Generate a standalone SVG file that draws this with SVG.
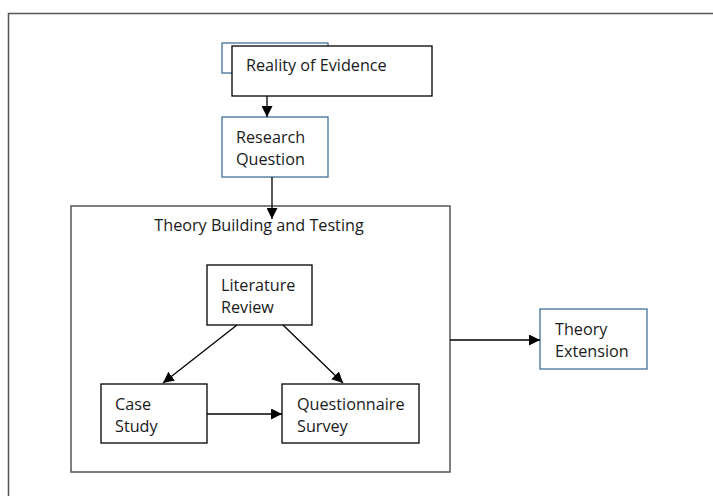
<svg xmlns="http://www.w3.org/2000/svg" width="713" height="496" viewBox="0 0 713 496">
<style>
text{font-family:"Open Sans","Liberation Sans",Arial,sans-serif;font-size:16.2px;fill:#1a1a1a}
.bk{fill:#fff;stroke:#000;stroke-width:1.3}
.bl{fill:#fff;stroke:#41709c;stroke-width:1.3}
.fr{fill:none;stroke:#555;stroke-width:1.5}
.cn{stroke:#000;stroke-width:1.3;fill:none;marker-end:url(#ah)}
</style>
<defs>
<marker id="ah" viewBox="0 0 10 10" refX="10" refY="5" markerWidth="11" markerHeight="11" markerUnits="userSpaceOnUse" orient="auto"><path d="M0,0L10,5L0,10z" fill="#000"/></marker>
</defs>
<rect width="713" height="496" fill="#fff"/>
<path class="fr" d="M8.5,496V13.5H713"/>
<g id="frame-box"><rect class="fr" x="71" y="206" width="379" height="266"/><text x="259" y="231" text-anchor="middle">Theory Building and Testing</text></g>
<g id="hidden-box"><rect class="bl" x="222" y="43" width="106" height="30"/></g>
<g id="reality"><rect class="bk" x="232" y="46" width="200" height="50"/><text x="246" y="71">Reality of Evidence</text></g>
<g id="research"><rect class="bl" x="222" y="117" width="106" height="60"/><text x="236" y="143">Research</text><text x="236" y="165">Question</text></g>
<g id="literature"><rect class="bk" x="207" y="265" width="105" height="60"/><text x="221" y="291">Literature</text><text x="221" y="313">Review</text></g>
<g id="case"><rect class="bk" x="101" y="384" width="106" height="59"/><text x="115" y="410">Case</text><text x="115" y="432">Study</text></g>
<g id="questionnaire"><rect class="bk" x="282" y="384" width="137" height="59"/><text x="297" y="410">Questionnaire</text><text x="297" y="432">Survey</text></g>
<g id="extension"><rect class="bl" x="540" y="309" width="107" height="60"/><text x="555" y="335">Theory</text><text x="555" y="357">Extension</text></g>
<g id="connectors">
<path class="cn" d="M267,96V117"/>
<path class="cn" d="M272,177V219"/>
<path class="cn" d="M237,325L163,383"/>
<path class="cn" d="M283,325L343,383"/>
<path class="cn" d="M207,414H282"/>
<path class="cn" d="M450,340H540"/>
</g>
</svg>
